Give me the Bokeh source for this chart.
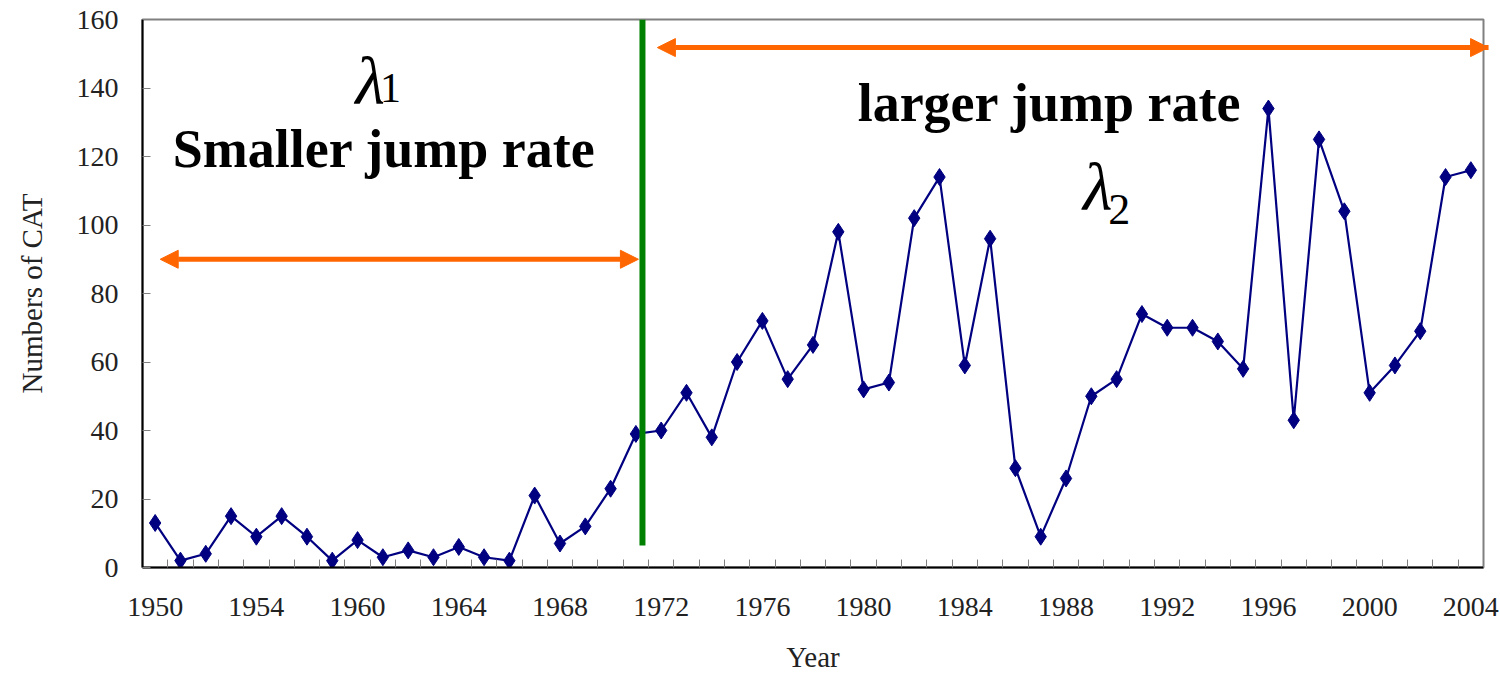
from bokeh.plotting import figure
from bokeh.models import FixedTicker, Arrow, NormalHead, Label
from bokeh.embed import file_html
from bokeh.resources import INLINE
import numpy as np

# ---- data ----
cat_values = [13, 2, 4, 15, 9, 15, 9, 2, 8, 3, 5, 3, 6, 3, 2, 21, 7, 12, 23, 39,
              40, 51, 38, 60, 72, 55, 65, 98, 52, 54, 102, 114, 59, 96, 29, 9, 26,
              50, 55, 74, 70, 70, 66, 58, 134, 43, 125, 104, 51, 59, 69, 114, 116]
tick_labels = ["1950", "1954", "1960", "1964", "1968", "1972", "1976", "1980",
               "1984", "1988", "1992", "1996", "2000", "2004"]
y_ticks = [0, 20, 40, 60, 80, 100, 120, 140, 160]

# change point / annotations (data coordinates)
change_x = 19.26
change_y0 = 6.4
arrow1 = dict(x0=0.2, x1=19.1, y=90)
arrow2 = dict(x0=19.85, x1=52.7, y=151.8)

n = len(cat_values)
xs = np.arange(n)

SERIF = "Liberation Serif"
NAVY = "#000080"
ORANGE = "#FF6600"
GREEN = "#008000"

p = figure(width=1500, height=675, x_range=(-0.5, n - 0.5), y_range=(0, 160),
           output_backend="svg", toolbar_location=None,
           min_border_left=142, min_border_right=17, min_border_top=19,
           min_border_bottom=108)
p.grid.visible = False
p.background_fill_color = "white"
p.border_fill_color = "white"
p.outline_line_color = "#808080"
p.outline_line_width = 2

# x axis
tick_pos = list(range(0, n, 4))
xa = p.xaxis[0]
xa.ticker = FixedTicker(ticks=tick_pos, minor_ticks=[i - 0.5 for i in range(n + 1)])
xa.major_label_overrides = {t: lab for t, lab in zip(tick_pos, tick_labels)}
xa.major_tick_line_color = None
xa.minor_tick_in = 8
xa.minor_tick_out = 0
xa.minor_tick_line_color = "#808080"
xa.minor_tick_line_width = 1
xa.axis_line_color = "black"
xa.axis_line_width = 2
xa.major_label_text_font = SERIF
xa.major_label_text_font_size = "28px"
xa.major_label_text_color = "#222222"
xa.major_label_standoff = 24
xa.axis_label = "Year"
xa.axis_label_text_font = SERIF
xa.axis_label_text_font_size = "29px"
xa.axis_label_text_font_style = "normal"
xa.axis_label_text_color = "#222222"
xa.axis_label_standoff = 22

# y axis
ya = p.yaxis[0]
ya.ticker = FixedTicker(ticks=y_ticks)
ya.major_tick_in = 8
ya.major_tick_out = 0
ya.major_tick_line_color = "#808080"
ya.minor_tick_line_color = None
ya.axis_line_color = "black"
ya.axis_line_width = 2
ya.major_label_text_font = SERIF
ya.major_label_text_font_size = "28px"
ya.major_label_text_color = "#222222"
ya.major_label_standoff = 24
ya.axis_label = "Numbers of CAT"
ya.axis_label_text_font = SERIF
ya.axis_label_text_font_size = "29px"
ya.axis_label_text_font_style = "normal"
ya.axis_label_text_color = "#222222"
ya.axis_label_standoff = 26

# series
p.line(xs, cat_values, line_color=NAVY, line_width=2.2)
p.scatter(xs, cat_values, marker="diamond", size=17, fill_color=NAVY, line_color=NAVY)

# change point line
p.segment(x0=[change_x], y0=[change_y0], x1=[change_x], y1=[160],
          line_color=GREEN, line_width=6)

# arrows
for a in (arrow1, arrow2):
    p.add_layout(Arrow(x_start=a["x0"], y_start=a["y"], x_end=a["x1"], y_end=a["y"],
                       line_color=ORANGE, line_width=5,
                       start=NormalHead(size=18, fill_color=ORANGE, line_color=ORANGE),
                       end=NormalHead(size=18, fill_color=ORANGE, line_color=ORANGE)))

# texts
p.add_layout(Label(x=9.05, y=122.3, text="Smaller jump rate", text_font=SERIF,
                   text_font_size="54px", text_font_style="bold", text_align="center",
                   text_baseline="alphabetic", text_color="black"))
p.add_layout(Label(x=35.35, y=135.5, text="larger jump rate", text_font=SERIF,
                   text_font_size="54px", text_font_style="bold", text_align="center",
                   text_baseline="alphabetic", text_color="black"))
# lambda 1
p.add_layout(Label(x=8.5, y=141.9, text="λ", text_font=SERIF, text_font_size="68px",
                   text_font_style="italic", text_align="center",
                   text_baseline="alphabetic", text_color="black"))
p.add_layout(Label(x=9.3, y=139.9, text="1", text_font=SERIF, text_font_size="42px",
                   text_align="center", text_baseline="alphabetic", text_color="black"))
# lambda 2
p.add_layout(Label(x=37.25, y=111, text="λ", text_font=SERIF, text_font_size="68px",
                   text_font_style="italic", text_align="center",
                   text_baseline="alphabetic", text_color="black"))
p.add_layout(Label(x=38.1, y=104.5, text="2", text_font=SERIF, text_font_size="44px",
                   text_align="center", text_baseline="alphabetic", text_color="black"))

open("out.html", "w").write(file_html(p, INLINE))
